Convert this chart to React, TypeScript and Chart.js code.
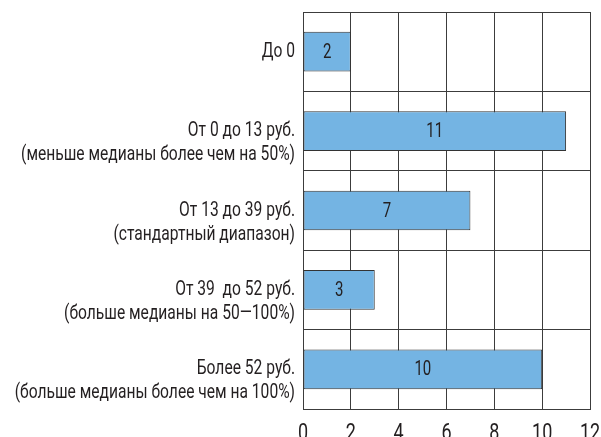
import React, { useEffect, useRef } from "react";
import { Chart, registerables } from "chart.js";

Chart.register(...registerables);

// Price ranges: first line is the range, second line explains it
const categories: string[][] = [
  ["До 0"],
  ["От 0 до 13 руб.", "(меньше медианы более чем на 50%)"],
  ["От 13 до 39 руб.", "(стандартный диапазон)"],
  ["От 39  до 52 руб.", "(больше медианы на 50—100%)"],
  ["Более 52 руб.", "(больше медианы более чем на 100%)"],
];

const values: number[] = [2, 11, 7, 3, 10];

const xTicks: number[] = [0, 2, 4, 6, 8, 10, 12];

const FONT = "Roboto, 'Liberation Sans', sans-serif";
const TEXT = "#231f20";
const LABEL_STRETCH = 0.78;
const DIGIT_STRETCH = 0.75;

// Condensed lettering: draw text squeezed horizontally around its anchor
function drawNarrow(
  ctx: CanvasRenderingContext2D,
  text: string,
  x: number,
  y: number,
  align: CanvasTextAlign,
  baseline: CanvasTextBaseline,
  font: string,
  stretch: number
) {
  ctx.save();
  ctx.translate(x, y);
  ctx.scale(stretch, 1);
  ctx.font = font;
  ctx.fillStyle = TEXT;
  ctx.textAlign = align;
  ctx.textBaseline = baseline;
  ctx.fillText(text, 0, 0);
  ctx.restore();
}

const narrowText = {
  id: "narrowText",
  afterDraw(chart: any) {
    const ctx: CanvasRenderingContext2D = chart.ctx;
    const xs = chart.scales.x;
    const ys = chart.scales.y;

    // category labels: first line level with the bar, second line below it
    categories.forEach((lines, i) => {
      const py = ys.getPixelForValue(i);
      lines.forEach((t, j) => {
        drawNarrow(ctx, t, ys.right - 8, py + j * 24, "right", "middle", `20px ${FONT}`, LABEL_STRETCH);
      });
    });

    // value axis numbers
    xTicks.forEach((v) => {
      drawNarrow(ctx, String(v), xs.getPixelForValue(v), xs.top + 31, "center", "alphabetic", `24px ${FONT}`, DIGIT_STRETCH);
    });

    // value inside each bar
    const meta = chart.getDatasetMeta(0);
    meta.data.forEach((el: any, i: number) => {
      const cx = (el.x + el.base) / 2;
      drawNarrow(ctx, String(values[i]), cx, el.y + 1, "center", "middle", `20px ${FONT}`, DIGIT_STRETCH);
    });
  },
};

export default function App() {
  const ref = useRef<HTMLCanvasElement | null>(null);

  useEffect(() => {
    if (!ref.current) return;
    const chart = new Chart(ref.current, {
      type: "bar",
      data: {
        labels: categories,
        datasets: [
          {
            data: values,
            backgroundColor: "#74b4e3",
            borderColor: "#333333",
            borderWidth: 1,
            borderSkipped: false,
            categoryPercentage: 1,
            barPercentage: 0.5,
          },
        ],
      },
      options: {
        indexAxis: "y",
        responsive: false,
        animation: false,
        layout: { padding: { left: 0, top: 12, right: 11, bottom: 0 } },
        plugins: {
          legend: { display: false },
          tooltip: { enabled: false },
          title: { display: false },
        },
        scales: {
          x: {
            min: 0,
            max: 12,
            afterBuildTicks(scale: any) {
              scale.ticks = xTicks.map((v) => ({ value: v }));
            },
            afterFit(scale: any) {
              scale.height = 28;
              scale.paddingLeft = 0;
              scale.paddingRight = 0;
            },
            grid: { color: "#3c3c3c", lineWidth: 1, drawTicks: false },
            border: { color: "#3c3c3c", width: 1 },
            ticks: { display: false },
          },
          y: {
            afterFit(scale: any) {
              scale.width = 303;
              scale.paddingTop = 0;
              scale.paddingBottom = 0;
            },
            grid: { color: "#3c3c3c", lineWidth: 1, offset: true, drawTicks: false },
            border: { color: "#3c3c3c", width: 1 },
            ticks: { display: false, autoSkip: false },
          },
        },
      },
      plugins: [narrowText],
    });
    return () => chart.destroy();
  }, []);

  return (
    <div style={{ position: "fixed", left: 0, top: 0, width: 601, height: 437, background: "#fff" }}>
      <canvas ref={ref} width={601} height={437} />
    </div>
  );
}
